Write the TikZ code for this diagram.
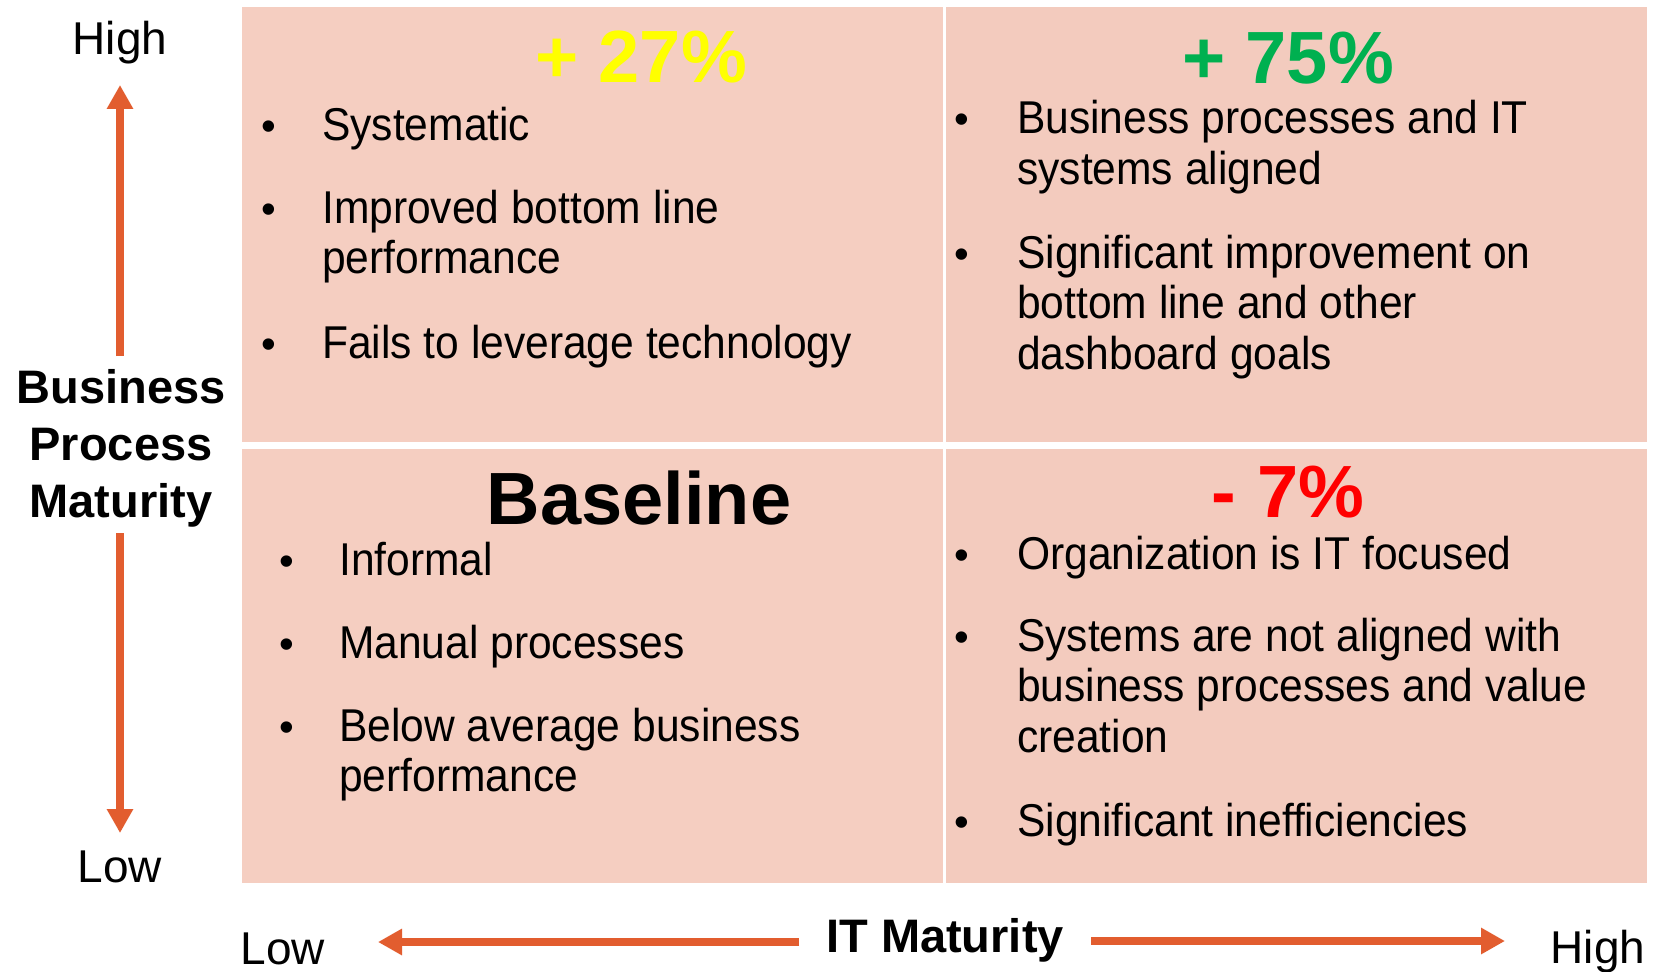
\documentclass[tikz,border=0pt]{standalone}
\usepackage{fontspec}
\setmainfont{Liberation Sans}
\newfontfamily\itemfont[FakeStretch=0.925]{Liberation Sans}
\usetikzlibrary{arrows.meta}
\usetikzlibrary{positioning}
\definecolor{cellpink}{RGB}{245,206,193}
\definecolor{cellpinkr}{RGB}{243,203,190}
\definecolor{axisorange}{RGB}{226,93,47}
\definecolor{pctgreen}{RGB}{0,176,80}
\definecolor{pctyellow}{RGB}{255,255,0}
\definecolor{pctred}{RGB}{255,0,0}
\newcommand{\itemlines}[1]{\parbox[t]{620pt}{\raggedright #1}}
\tikzset{cell/.style = {draw=none},
         axis/.style = {draw=axisorange, line width=8pt,
                        -{Triangle[width=25pt, length=24pt]}},
         pct/.style = {anchor=base, inner sep=0pt,
                       font=\bfseries\fontsize{74}{80}\selectfont},
         item/.style = {anchor=base west, inner sep=0pt,
                        font=\itemfont\fontsize{46}{50.7}\selectfont},
         dot/.style = {anchor=base, inner sep=0pt,
                       font=\fontsize{42}{42}\selectfont},
         scalelabel/.style = {anchor=base, inner sep=0pt,
                              font=\fontsize{46}{50}\selectfont},
         axistitle/.style = {anchor=base, inner sep=0pt,
                             font=\bfseries\fontsize{47}{57}\selectfont}}

\begin{document}
\begin{tikzpicture}[x=1pt, y=-1pt]
  \path[fill=white, use as bounding box] (0,0) rectangle (1653,971);

  % quadrants
  \fill[cell, cellpink]  (242,7)   rectangle (943,442);
  \fill[cell, cellpinkr] (946,7)   rectangle (1647,442);
  \fill[cell, cellpink]  (242,449) rectangle (943,883);
  \fill[cell, cellpinkr] (946,449) rectangle (1647,883);

  \node [pct, text=pctyellow] (p27)  at (641,83)  {+ 27\%};
  \node [pct, text=pctgreen]  (p75)  at (1288,84) {+ 75\%};
  \node [pct]                 (base) at (639,524) {Baseline};
  \node [pct, text=pctred]    (m7)   at (1288,517) {- 7\%};

  % bullet lists
  \foreach \y/\txt in {140/Systematic,
                       223/{Improved bottom line\\performance},
                       358/Fails to leverage technology}
    {\node [dot] at (269,\y) {\textbullet};
     \node [item] at (322,\y) {\itemlines{\txt}};}

  \foreach \y/\txt in {134/{Business processes and IT\\systems aligned},
                       268/{Significant improvement on\\bottom line and other\\dashboard goals}}
    {\node [dot] at (962,\y) {\textbullet};
     \node [item] at (1017,\y) {\itemlines{\txt}};}

  \foreach \y/\txt in {575/Informal,
                       658/Manual processes,
                       741/{Below average business\\performance}}
    {\node [dot] at (287,\y) {\textbullet};
     \node [item] at (339,\y) {\itemlines{\txt}};}

  \foreach \y/\txt in {569/Organization is IT focused,
                       651/{Systems are not aligned with\\business processes and value\\creation},
                       836/Significant inefficiencies}
    {\node [dot] at (962,\y) {\textbullet};
     \node [item] at (1017,\y) {\itemlines{\txt}};}

  % vertical axis
  \node [scalelabel] (bphigh) at (120,55)  {High};
  \node [scalelabel] (bplow)  at (120,882) {Low};
  \node [axistitle]  (bpm)    at (121,403)
        {\parbox[t]{230pt}{\centering Business\\Process\\Maturity}};
  \coordinate (bpmtop) at (120,356);
  \coordinate (bpmbot) at (120,533);
  \coordinate (uptip)  at (120,85);
  \coordinate (dntip)  at (120,833);
  \draw [axis] (bpmtop) -- (uptip);
  \draw [axis] (bpmbot) -- (dntip);

  % horizontal axis
  \node [scalelabel] (itlow)  at (283,964)  {Low};
  \node [scalelabel] (ithigh) at (1598,963) {High};
  \node [axistitle]  (itm)    at (945,952)  {IT Maturity};
  \coordinate (itmleft)  at (799,942);
  \coordinate (itmright) at (1091,941);
  \coordinate (lftip)    at (378,942);
  \coordinate (rttip)    at (1505,941);
  \draw [axis] (itmleft)  -- (lftip);
  \draw [axis] (itmright) -- (rttip);
\end{tikzpicture}
\end{document}
